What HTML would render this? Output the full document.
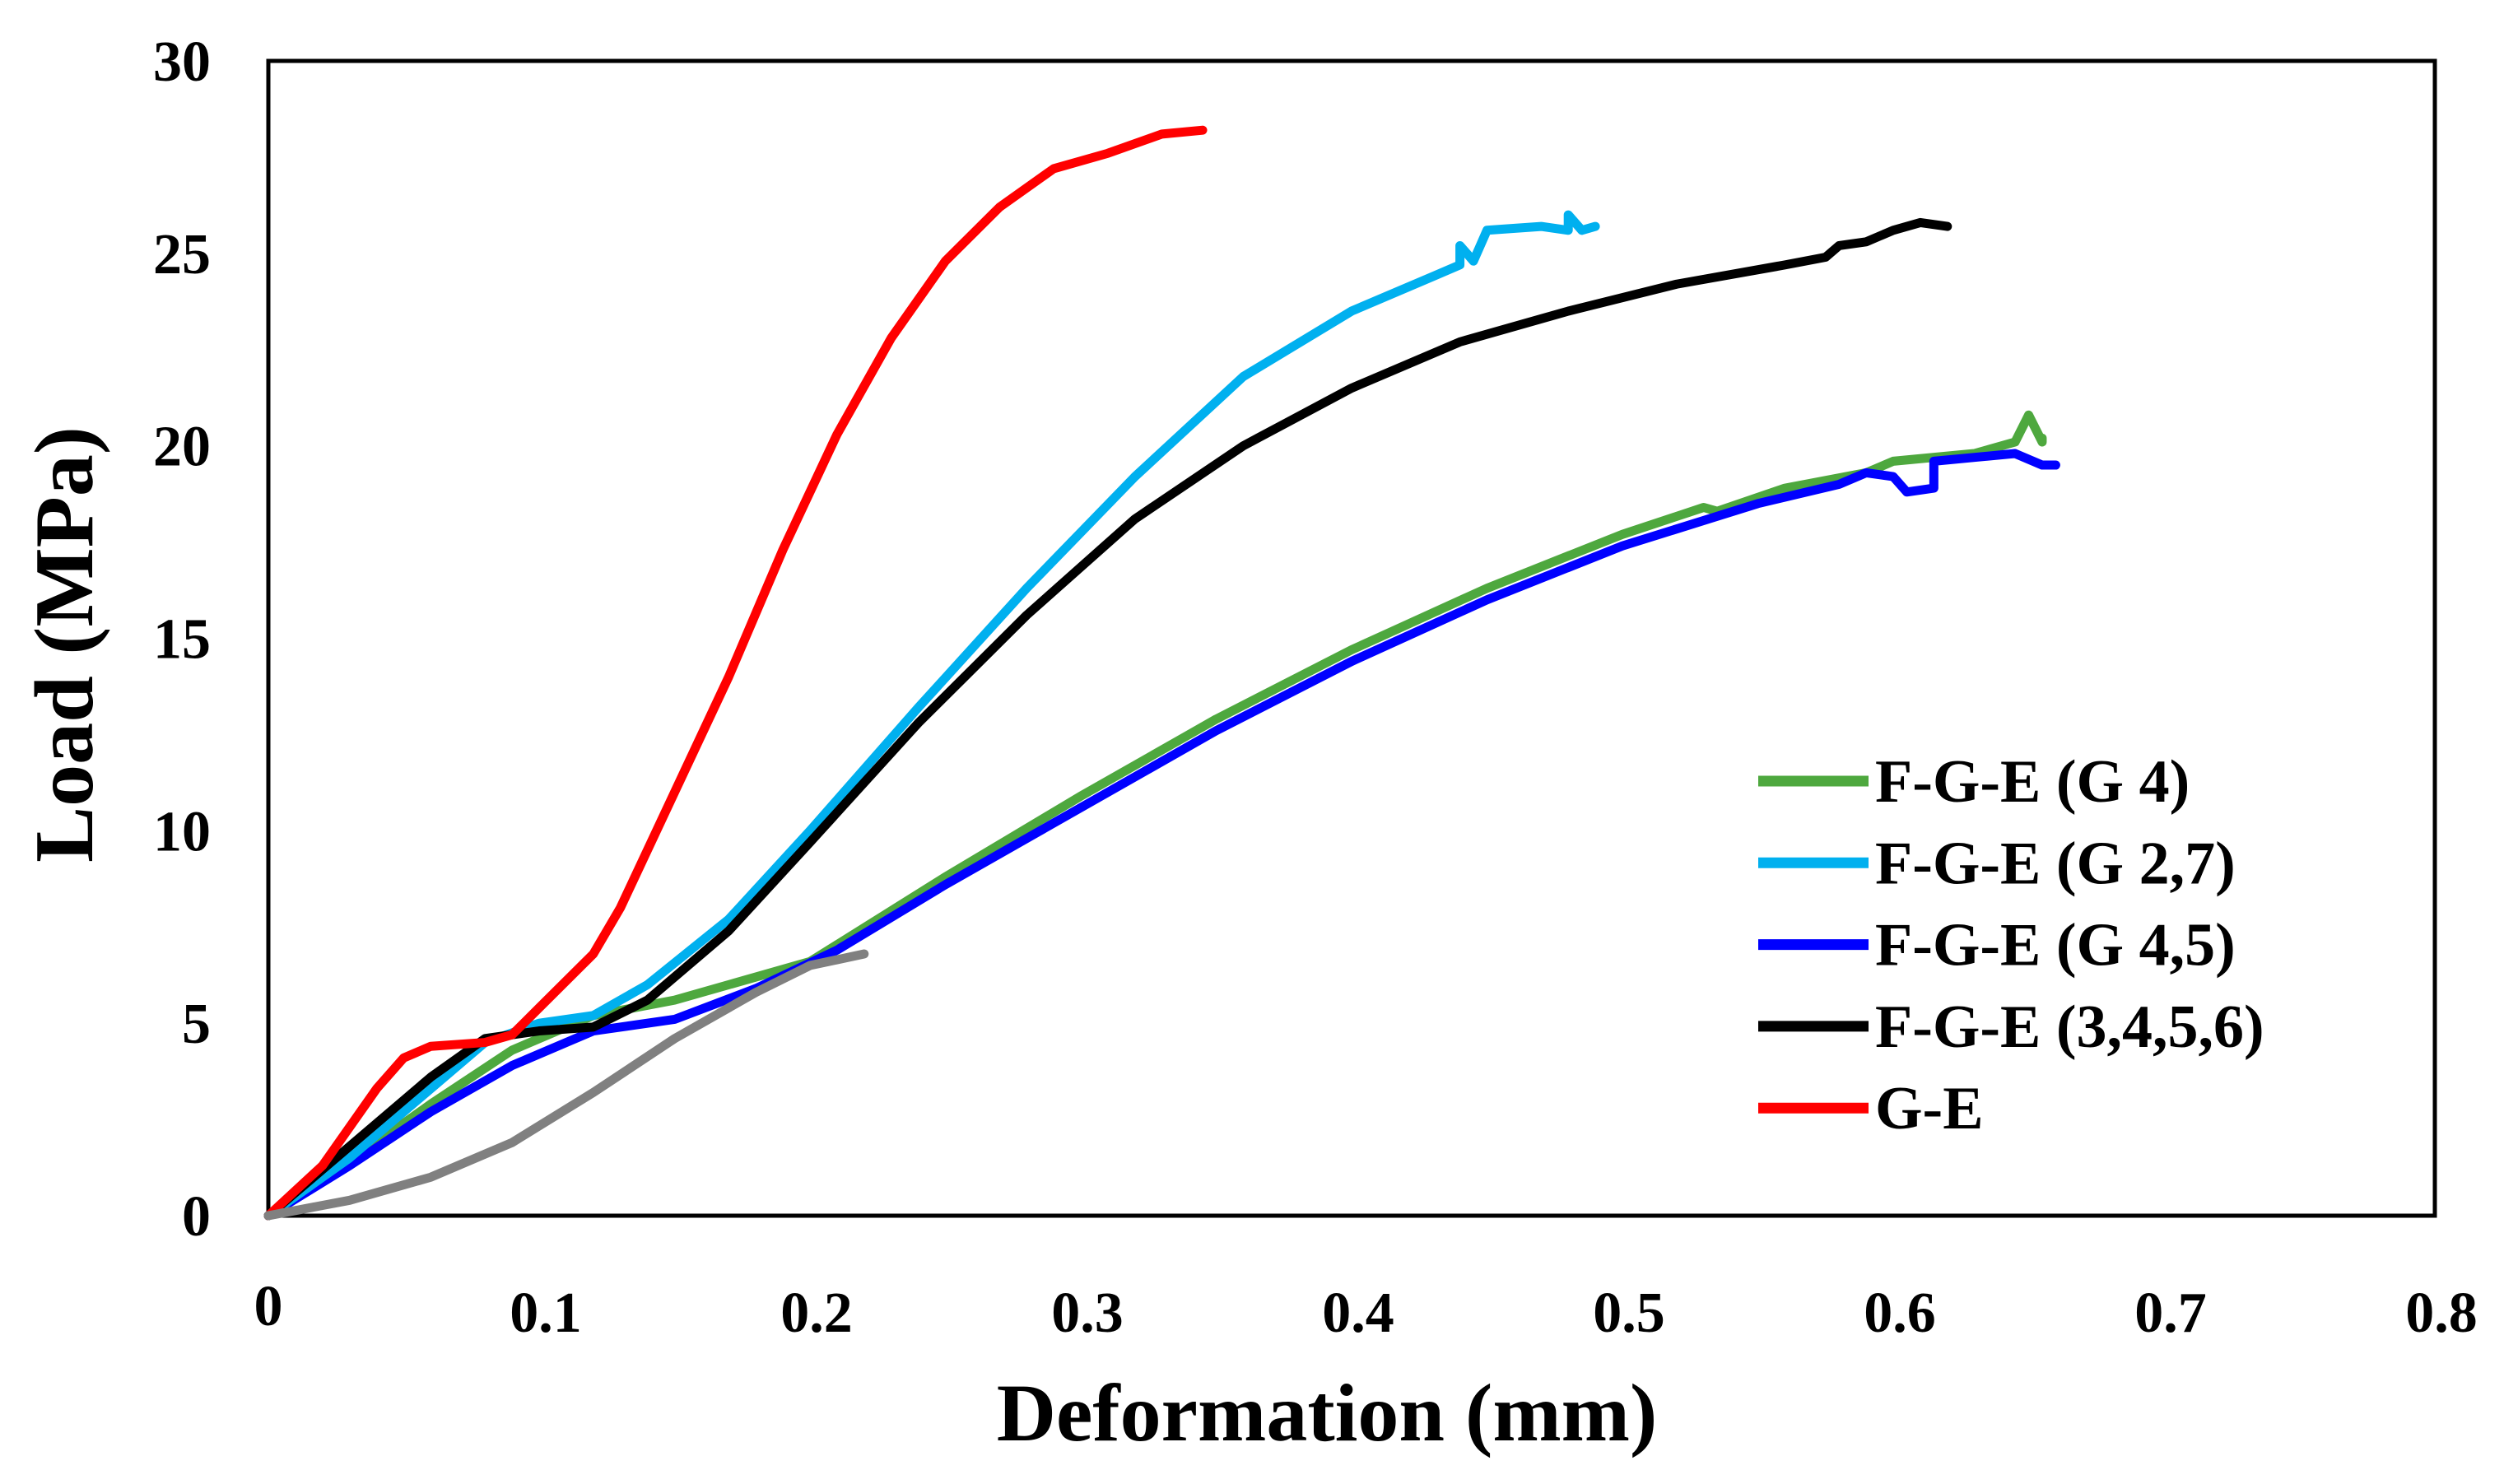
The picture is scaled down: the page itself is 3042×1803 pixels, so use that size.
<!DOCTYPE html>
<html><head><meta charset="utf-8"><style>
html,body{margin:0;padding:0;background:#fff;}
svg{display:block;}
text{font-family:"Liberation Serif",serif;font-weight:bold;fill:#000;}
</style></head><body>
<svg id="chart" width="3042" height="1803" viewBox="0 0 3042 1803" xmlns="http://www.w3.org/2000/svg">
<rect x="326" y="74" width="2632" height="1403" fill="#fff" stroke="#000" stroke-width="5"/>
<g id="xticks"></g><g id="yticks"></g><g id="series"></g><g id="legend"></g>
<text x="1612" y="1750" font-size="100" text-anchor="middle">Deformation (mm)</text>
<text transform="translate(112,783) rotate(-90)" font-size="102" text-anchor="middle">Load (MPa)</text>
</svg>
<script>
const xTicks=[0,0.1,0.2,0.3,0.4,0.5,0.6,0.7,0.8];
const xTickLabels=["0","0.1","0.2","0.3","0.4","0.5","0.6","0.7","0.8"];
const yTicks=[0,5,10,15,20,25,30];
const yTickLabels=["0","5","10","15","20","25","30"];
const seriesNames=["F-G-E (G 4)","F-G-E (G 2,7)","F-G-E (G 4,5)","F-G-E (3,4,5,6)","G-E"];
const seriesColors=["#4ea83e","#00b0ef","#0000ff","#000000","#ff0000"];
const g4X=[0,0.03,0.06,0.09,0.12,0.15,0.2,0.25,0.3,0.35,0.4,0.45,0.5,0.53,0.535,0.56,0.59,0.6,0.63,0.645,0.65,0.655,0.655];
const g4Y=[0,1.4,2.9,4.3,5.2,5.6,6.6,8.8,10.9,12.9,14.7,16.3,17.7,18.4,18.3,18.9,19.3,19.6,19.8,20.1,20.8,20.1,20.2];
const g27X=[0,0.03,0.06,0.08,0.1,0.12,0.14,0.17,0.2,0.24,0.28,0.32,0.36,0.4,0.43,0.44,0.44,0.445,0.45,0.47,0.48,0.48,0.485,0.49];
const g27Y=[0,1.5,3.3,4.5,5,5.2,6,7.7,10,13.2,16.3,19.2,21.8,23.5,24.4,24.7,25.2,24.8,25.6,25.7,25.6,26,25.6,25.7];
const g45X=[0,0.03,0.06,0.09,0.12,0.15,0.18,0.21,0.25,0.3,0.35,0.4,0.45,0.5,0.55,0.58,0.59,0.6,0.605,0.615,0.615,0.63,0.645,0.655,0.66];
const g45Y=[0,1.3,2.7,3.9,4.8,5.1,5.9,6.9,8.6,10.6,12.6,14.4,16,17.4,18.5,19,19.3,19.2,18.8,18.9,19.6,19.7,19.8,19.5,19.5];
const g3456X=[0,0.03,0.06,0.08,0.1,0.12,0.14,0.17,0.2,0.24,0.28,0.32,0.36,0.4,0.44,0.48,0.52,0.56,0.575,0.58,0.59,0.6,0.61,0.62];
const g3456Y=[0,1.8,3.6,4.6,4.8,4.9,5.6,7.4,9.7,12.8,15.6,18.1,20,21.5,22.7,23.5,24.2,24.7,24.9,25.2,25.3,25.6,25.8,25.7];
const geX=[0,0.02,0.04,0.05,0.06,0.08,0.09,0.1,0.12,0.13,0.15,0.17,0.19,0.21,0.23,0.25,0.27,0.29,0.31,0.33,0.345];
const geY=[0,1.3,3.3,4.1,4.4,4.5,4.7,5.4,6.8,8,11,14,17.3,20.3,22.8,24.8,26.2,27.2,27.6,28.1,28.2];
const grayX=[0,0.03,0.06,0.09,0.12,0.15,0.18,0.2,0.22];
const grayY=[0,0.4,1,1.9,3.2,4.6,5.8,6.5,6.8];

const NS="http://www.w3.org/2000/svg";
const X0=326,X1=2958,Y0=1477,Y1=74;
function sx(v){return X0+(v-0)/(0.8-0)*(X1-X0);}
function sy(v){return Y0-(v-0)/(30-0)*(Y0-Y1);}
function mk(tag,parent){const e=document.createElementNS(NS,tag);parent.appendChild(e);return e;}

const xg=document.getElementById('xticks');
xTicks.forEach((t,i)=>{const e=mk('text',xg);


e.setAttribute('x',sx(t)+(i===0?0:8));e.setAttribute('y',i===0?1610:1618);e.setAttribute('font-size','70');e.setAttribute('text-anchor','middle');e.textContent=xTickLabels[i];});
const yg=document.getElementById('yticks');
yTicks.forEach((t,i)=>{const e=mk('text',yg);


e.setAttribute('x',256);e.setAttribute('y',sy(t)+24);e.setAttribute('font-size','70');e.setAttribute('text-anchor','end');e.textContent=yTickLabels[i];});

const sg=document.getElementById('series');
function line(xs,ys,color,name){const p=mk('polyline',sg);


p.setAttribute('points',xs.map((x,i)=>sx(x)+','+sy(ys[i])).join(' '));
p.setAttribute('fill','none');p.setAttribute('stroke',color);p.setAttribute('stroke-width','11');p.setAttribute('stroke-linejoin','round');p.setAttribute('stroke-linecap','round');}
line(g4X,g4Y,seriesColors[0],'series-g4');
line(g45X,g45Y,seriesColors[2],'series-g45');
line(g27X,g27Y,seriesColors[1],'series-g27');
line(g3456X,g3456Y,seriesColors[3],'series-g3456');
line(geX,geY,seriesColors[4],'series-ge');
line(grayX,grayY,'#808080','series-gray');

const lg=document.getElementById('legend');
seriesNames.forEach((n,i)=>{const y=949+i*99.3;
const l=mk('line',lg);


l.setAttribute('x1',2136);l.setAttribute('x2',2270);l.setAttribute('y1',y);l.setAttribute('y2',y);l.setAttribute('stroke',seriesColors[i]);l.setAttribute('stroke-width','13');
const t=mk('text',lg);


t.setAttribute('x',2278);t.setAttribute('y',y+25);t.setAttribute('font-size','74');t.textContent=n;});
</script>
</body></html>
